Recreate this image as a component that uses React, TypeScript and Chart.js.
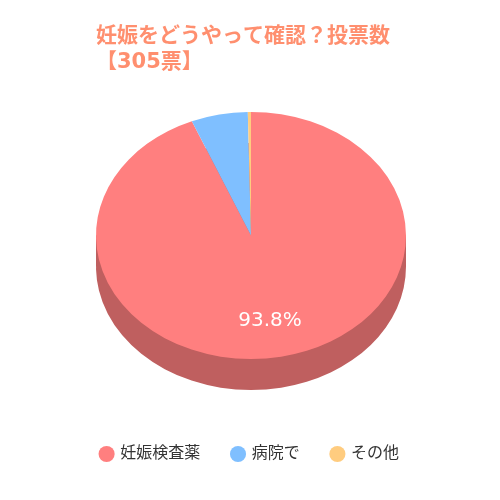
import { useEffect, useRef } from "react";
import { Chart, registerables, Plugin } from "chart.js";

Chart.register(...registerables);

const titleLines: string[] = ["妊娠をどうやって確認？投票数", "【305票】"];
const categories: string[] = ["妊娠検査薬", "病院で", "その他"];
const votes: number[] = [286, 18, 1];
const sliceColors: string[] = ["#ff7f7f", "#7fbfff", "#ffcc7f"];
const sideColor = "#bf5f5f";

const FONT = '"DejaVu Sans", "Noto Sans CJK JP", sans-serif';
const TITLE_LEFT = 96;
const TILT = 0.797;
const DEPTH = 31;
const CENTER_X = 251;
const CENTER_Y = 235.5;

// flattens the pie into an ellipse and puts a darker copy below it for the side
const tiltPlugin: Plugin<"pie"> = {
  id: "tilt",
  afterLayout(chart) {
    // the legend needs the full width, only the title starts further in
    (chart as any).titleBlock.left = TITLE_LEFT;
  },
  beforeDatasetsDraw(chart) {
    const ctx = chart.ctx;
    const arcs = chart.getDatasetMeta(0).data as any[];
    const cx = arcs[0].x;
    const cy = arcs[0].y;
    const radius = arcs[0].outerRadius;
    const applyTilt = (offset: number) => {
      ctx.translate(CENTER_X, CENTER_Y + offset);
      ctx.scale(1, TILT);
      ctx.translate(-cx, -cy);
    };
    ctx.save();
    ctx.fillStyle = sideColor;
    ctx.fillRect(CENTER_X - radius, CENTER_Y, radius * 2, DEPTH);
    applyTilt(DEPTH);
    arcs.forEach((arc) => {
      const original = arc.options;
      arc.options = { ...original, backgroundColor: sideColor };
      arc.draw(ctx);
      arc.options = original;
    });
    ctx.restore();
    ctx.save();
    applyTilt(0);
  },
  afterDatasetsDraw(chart) {
    const ctx = chart.ctx;
    ctx.restore();
    const arc = chart.getDatasetMeta(0).data[0] as any;
    const total = votes.reduce((a, b) => a + b, 0);
    const mid = (arc.startAngle + arc.endAngle) / 2;
    const r = arc.outerRadius * 0.63;
    ctx.save();
    ctx.fillStyle = "#ffffff";
    ctx.font = "20px " + FONT;
    ctx.textAlign = "center";
    ctx.textBaseline = "middle";
    ctx.fillText(
      ((votes[0] / total) * 100).toFixed(1) + "%",
      CENTER_X + Math.cos(mid) * r,
      CENTER_Y + Math.sin(mid) * r * TILT + 9
    );
    ctx.restore();
  },
};

function App() {
  const chartRef = useRef<null | HTMLCanvasElement>(null);
  useEffect(() => {
    if (!chartRef.current) return;
    const chart = new Chart(chartRef.current, {
      type: "pie",
      data: {
        labels: categories,
        datasets: [
          {
            data: votes,
            backgroundColor: sliceColors,
            borderWidth: 0,
            radius: 155,
          },
        ],
      },
      options: {
        responsive: false,
        animation: false,
        layout: { padding: { left: 0, right: 0, top: 12, bottom: 28 } },
        plugins: {
          title: {
            display: true,
            text: titleLines,
            align: "start",
            color: "#ff8f6f",
            font: { family: FONT, size: 21, weight: "bold", lineHeight: 1.25 },
            padding: { top: 11, bottom: 0 },
          },
          legend: {
            position: "bottom",
            labels: {
              usePointStyle: true,
              pointStyle: "circle",
              boxHeight: 11.4,
              boxWidth: 11.4,
              color: "#333333",
              font: { family: FONT, size: 16 },
              padding: 32,
            },
          },
          tooltip: { enabled: false },
        },
      },
      plugins: [tiltPlugin],
    });
    return () => chart.destroy();
  }, []);
  return (
    <div style={{ position: "absolute", left: 0, top: 0, width: 500, height: 500 }}>
      <canvas ref={chartRef} width={500} height={500} style={{ display: "block" }} />
    </div>
  );
}

export default App;
